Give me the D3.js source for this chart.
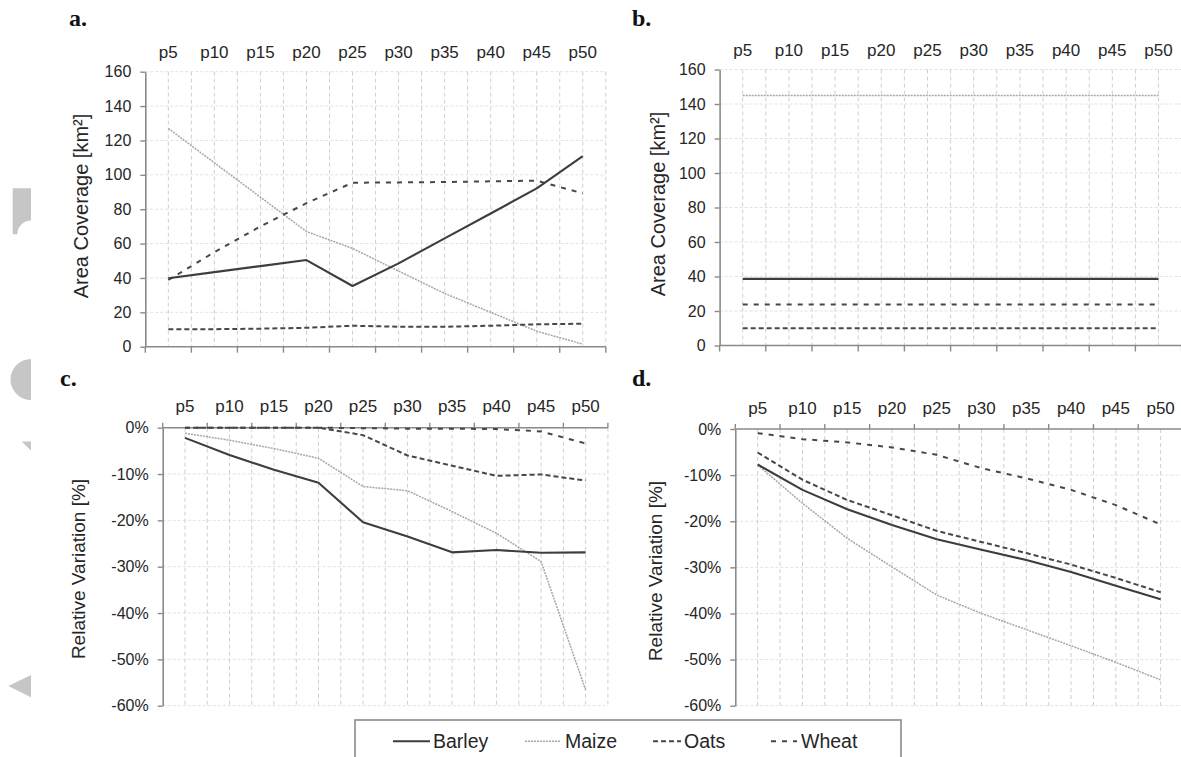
<!DOCTYPE html>
<html><head><meta charset="utf-8">
<script src="https://cdn.jsdelivr.net/npm/d3@7"></script>
<style>
body{margin:0;background:#fff;}
svg{display:block;font-family:Arial,"Liberation Sans",sans-serif;}
</style>
</head><body>
<svg id="chart" width="1181" height="757"></svg>
<script>
// ---------- DATA ----------
const categories = ["p5","p10","p15","p20","p25","p30","p35","p40","p45","p50"];
const seriesNames = ["Barley","Maize","Oats","Wheat"];

// a. Area coverage [km²]
const aBarley = [39.8, 43.4, 46.9, 50.4, 35.3, 48.5, 63, 77.5, 92.1, 110.9];
const aMaize  = [127, 107, 87, 67, 57.2, 44, 31, 20, 9, 1.5];
const aOats   = [10.1, 10.2, 10.5, 11, 12.2, 11.6, 11.6, 12.2, 13, 13.4];
const aWheat  = [38.8, 55, 70, 83.5, 95.4, 95.6, 95.8, 96.2, 96.6, 89.2];

// b. Area coverage [km²]
const bBarley = [38.6, 38.6, 38.6, 38.6, 38.6, 38.6, 38.6, 38.6, 38.6, 38.6];
const bMaize  = [145, 145, 145, 145, 145, 145, 145, 145, 145, 145];
const bOats   = [10, 10, 10, 10, 10, 10, 10, 10, 10, 10];
const bWheat  = [23.8, 23.8, 23.8, 23.8, 23.8, 23.8, 23.8, 23.8, 23.8, 23.8];

// c. Relative variation [%]
const cBarley = [-2.2, -5.9, -9.1, -11.9, -20.4, -23.5, -26.9, -26.4, -27, -26.9];
const cMaize  = [-1.2, -2.7, -4.5, -6.6, -12.7, -13.6, -18.1, -22.8, -28.9, -56.6];
const cOats   = [0, 0, 0, 0, -1.6, -6, -8.2, -10.4, -10.1, -11.4];
const cWheat  = [0, 0, 0, 0, -0.1, -0.2, -0.2, -0.3, -0.8, -3.4];

// d. Relative variation [%]
const dBarley = [-7.7, -13.2, -17.4, -20.8, -23.9, -26.2, -28.4, -31, -34, -36.9];
const dMaize  = [-7.8, -16.1, -23.7, -29.9, -36, -40, -43.5, -47, -50.6, -54.4];
const dOats   = [-5.1, -11, -15.4, -18.7, -22.1, -24.5, -26.9, -29.4, -32.3, -35.4];
const dWheat  = [-0.9, -2.2, -2.9, -4, -5.6, -8.5, -10.7, -13.2, -16.5, -20.7];

const areaTicks = [0, 20, 40, 60, 80, 100, 120, 140, 160];
const relTicks  = [0, -10, -20, -30, -40, -50, -60];

// ---------- STYLES ----------
const styles = {
  Barley: {stroke:"#3d3d3d", width:2.1, dash:null},
  Maize:  {stroke:"#a6a6a6", width:1.5, dash:"2,1"},
  Oats:   {stroke:"#474747", width:2,   dash:"5,3"},
  Wheat:  {stroke:"#474747", width:2,   dash:"5,6"}
};
const drawOrder = ["Maize","Oats","Wheat","Barley"];

const svg = d3.select("#chart");
svg.append("rect").attr("width",1181).attr("height",757).attr("fill","#fff");

// decorative page marks at the left edge
const deco = svg.append("g").attr("fill","#c6c6c6");
deco.append("path").attr("d","M12.7,188.3 L31,188.3 L31,220.5 A13.7,13.7 0 0 0 17.3,234.2 L12.7,234.2 Z");
deco.append("path").attr("d","M31,359 A20.5,20.5 0 0 0 31,400 Z");
deco.append("path").attr("d","M21.7,441.6 L31,441.6 L31,450.4 Z");
deco.append("path").attr("d","M31,675 L31,697.3 L8.3,686 Z");

const panels = [
  {letter:"a.", lx:69, ly:25.5, l:145.3, r:605.8, t:71.7, b:346.7, domain:[0,160], ticks:areaTicks,
   fmt:d=>String(d), title:"Area Coverage [km²]", tx:88, ty:206, tsize:20, labOff:14,
   data:{Barley:aBarley, Maize:aMaize, Oats:aOats, Wheat:aWheat}, axisTop:false},
  {letter:"b.", lx:632, ly:25.5, l:719.6, r:1181.6, t:69.5, b:345.5, domain:[0,160], ticks:areaTicks,
   fmt:d=>String(d), title:"Area Coverage [km²]", tx:665, ty:204, tsize:20, labOff:14,
   data:{Barley:bBarley, Maize:bMaize, Oats:bOats, Wheat:bWheat}, axisTop:false},
  {letter:"c.", lx:60, ly:386, l:162.7, r:607.9, t:427.7, b:705.7, domain:[-60,0], ticks:relTicks,
   fmt:d=>d+"%", title:"Relative Variation [%]", tx:85, ty:569, tsize:19, labOff:15.5,
   data:{Barley:cBarley, Maize:cMaize, Oats:cOats, Wheat:cWheat}, axisTop:true},
  {letter:"d.", lx:632, ly:386, l:735.3, r:1183, t:429, b:705.7, domain:[-60,0], ticks:relTicks,
   fmt:d=>d+"%", title:"Relative Variation [%]", tx:662, ty:571, tsize:19, labOff:15.5,
   data:{Barley:dBarley, Maize:dMaize, Oats:dOats, Wheat:dWheat}, axisTop:true}
];

panels.forEach(p => {
  const g = svg.append("g");
  const x = d3.scaleBand().domain(categories).range([p.l, p.r]).padding(0);
  const bw = x.bandwidth();
  const cx = c => x(c) + bw/2;
  const y = d3.scaleLinear().domain(p.domain).range([p.b, p.t]);

  // horizontal grid
  g.append("g").selectAll("line").data(p.ticks.filter(v => v !== 0)).join("line")
    .attr("x1", p.l).attr("x2", p.r).attr("y1", d=>y(d)).attr("y2", d=>y(d))
    .attr("stroke","#e2e2e2").attr("stroke-width",1).attr("stroke-dasharray","3,2");

  // vertical grid (category boundaries and centres)
  const bounds = categories.map(c => x(c)).concat([p.r]).slice(1);
  const centres = categories.map(cx);
  g.append("g").selectAll("line").data(bounds.concat(centres)).join("line")
    .attr("x1", d=>d).attr("x2", d=>d).attr("y1", p.t).attr("y2", p.b)
    .attr("stroke","#cfcfcf").attr("stroke-width",1).attr("stroke-dasharray","4,3");

  // y axis
  const ya = g.append("g").attr("transform",`translate(${p.l},0)`)
    .call(d3.axisLeft(y).tickValues(p.ticks).tickFormat(p.fmt).tickSize(5).tickSizeOuter(0).tickPadding(9));
  ya.select(".domain").attr("stroke","#8a8a8a").attr("stroke-width",1.6);
  ya.selectAll(".tick line").attr("stroke","#8a8a8a").attr("stroke-width",1.4);
  ya.selectAll(".tick text").attr("font-size",16).attr("fill","#262626")
    .attr("font-family","Arial, 'Liberation Sans', sans-serif");

  // category axis at value 0 (bottom for a/b, top for c/d), ticks at boundaries
  const y0 = y(0);
  g.append("line").attr("x1",p.l).attr("x2",p.r).attr("y1",y0).attr("y2",y0)
    .attr("stroke","#8a8a8a").attr("stroke-width",1.6);
  const tickDir = p.axisTop ? -5 : 6;
  g.append("g").selectAll("line").data(categories.map(c => x(c)).concat([p.r])).join("line")
    .attr("x1",d=>d).attr("x2",d=>d).attr("y1",y0).attr("y2",y0+tickDir)
    .attr("stroke","#8a8a8a").attr("stroke-width",1.4);

  // category labels on top
  g.append("g").selectAll("text").data(categories).join("text")
    .attr("x", cx).attr("y", p.t - p.labOff).attr("text-anchor","middle")
    .attr("font-size",17).attr("fill","#262626").text(d=>d);

  // y title
  g.append("text").attr("transform",`translate(${p.tx},${p.ty}) rotate(-90)`)
    .attr("text-anchor","middle").attr("font-size",p.tsize).attr("fill","#262626").text(p.title);

  // panel letter
  g.append("text").attr("x",p.lx).attr("y",p.ly).attr("font-family","'Liberation Serif','DejaVu Serif',serif")
    .attr("font-weight","bold").attr("font-size",24).attr("fill","#111").text(p.letter);

  // series
  const line = d3.line().x((d,i)=>cx(categories[i])).y(d=>y(d));
  drawOrder.forEach(s => {
    const st = styles[s];
    g.append("path").datum(p.data[s]).attr("d", line)
      .attr("fill","none").attr("stroke",st.stroke).attr("stroke-width",st.width)
      .attr("stroke-dasharray",st.dash).attr("stroke-linejoin","round");
  });
});

// ---------- LEGEND ----------
const lg = svg.append("g");
lg.append("rect").attr("x",355).attr("y",720).attr("width",546).attr("height",60)
  .attr("fill","#fff").attr("stroke","#8a8a8a").attr("stroke-width",1.6);
const legendItems = [
  {name:"Barley", x1:393, x2:430, tx:433},
  {name:"Maize",  x1:525, x2:560, tx:565},
  {name:"Oats",   x1:653, x2:681, tx:684},
  {name:"Wheat",  x1:771, x2:797, tx:801}
];
legendItems.forEach(it => {
  const st = styles[it.name];
  lg.append("line").attr("x1",it.x1).attr("x2",it.x2).attr("y1",741.3).attr("y2",741.3)
    .attr("stroke",st.stroke).attr("stroke-width",st.width).attr("stroke-dasharray",st.dash);
  lg.append("text").attr("x",it.tx).attr("y",747.5).attr("font-size",19.5).attr("fill","#262626").text(it.name);
});
</script>
</body></html>
